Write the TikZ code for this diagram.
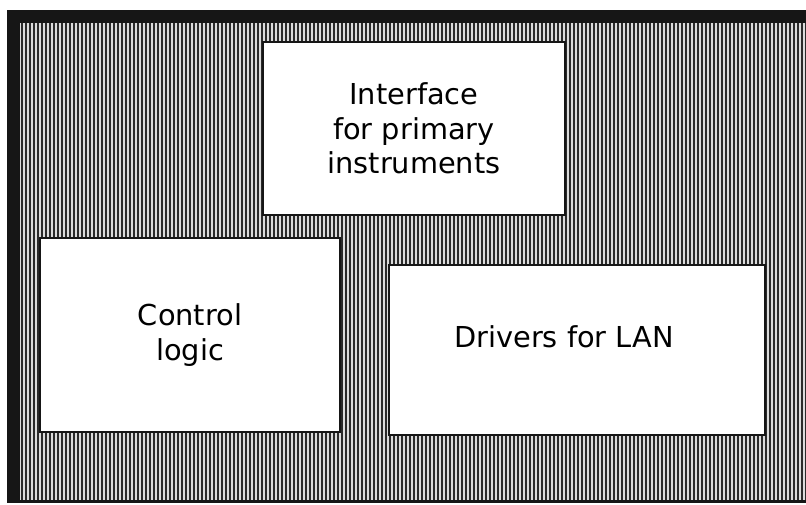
\documentclass[tikz,border=0pt]{standalone}
\usepackage{fontspec}
\setmainfont{DejaVu Sans}
\usepackage{tikz}
\usetikzlibrary{
  positioning,
  backgrounds
}
\definecolor{bdInk}{HTML}{161616}
\definecolor{bdHatch}{HTML}{2A2A2A}
\definecolor{bdPaper}{HTML}{FFFFFF}
\tikzset{
  bdbox/.style={
    draw=bdInk, line width=1.6pt, fill=bdPaper, align=center,
    font=\fontsize{20.5}{24.5}\selectfont, inner sep=0pt
  },
  hatchbg/.style={fill=black!14},
  hatchline/.style={fill=bdHatch},
  frame/.style={fill=bdInk}
}

\begin{document}
\begin{tikzpicture}
  \useasboundingbox (0,0) rectangle (20.15,12.6);
  \fill[hatchbg] (0.5,0.1) rectangle (20.15,12.025);
  \foreach \i in {0,...,196}
    \fill[hatchline] ({0.525+0.1*\i},0.1) rectangle ++(0.045,11.925);
  \fill[frame] (0.175,0.025) rectangle (0.5,12.35);
  \fill[frame] (0.175,12.025) rectangle (20.15,12.35);
  \fill[frame] (0.175,0.025) rectangle (20.15,0.1);
  \node[bdbox, minimum width=7.55cm, minimum height=4.325cm] (iface) at (10.35,9.39)
    {Interface\\for primary\\instruments};
  \node[bdbox, minimum width=7.5cm, minimum height=4.85cm] (ctrl) at (4.75,4.225)
    {Control\\logic};
  \node[bdbox, minimum width=9.4cm, minimum height=4.25cm] (lan) at (14.425,3.85)
    {\raisebox{0.65cm}{Drivers for LAN}\hspace*{0.65cm}};
\end{tikzpicture}
\end{document}
